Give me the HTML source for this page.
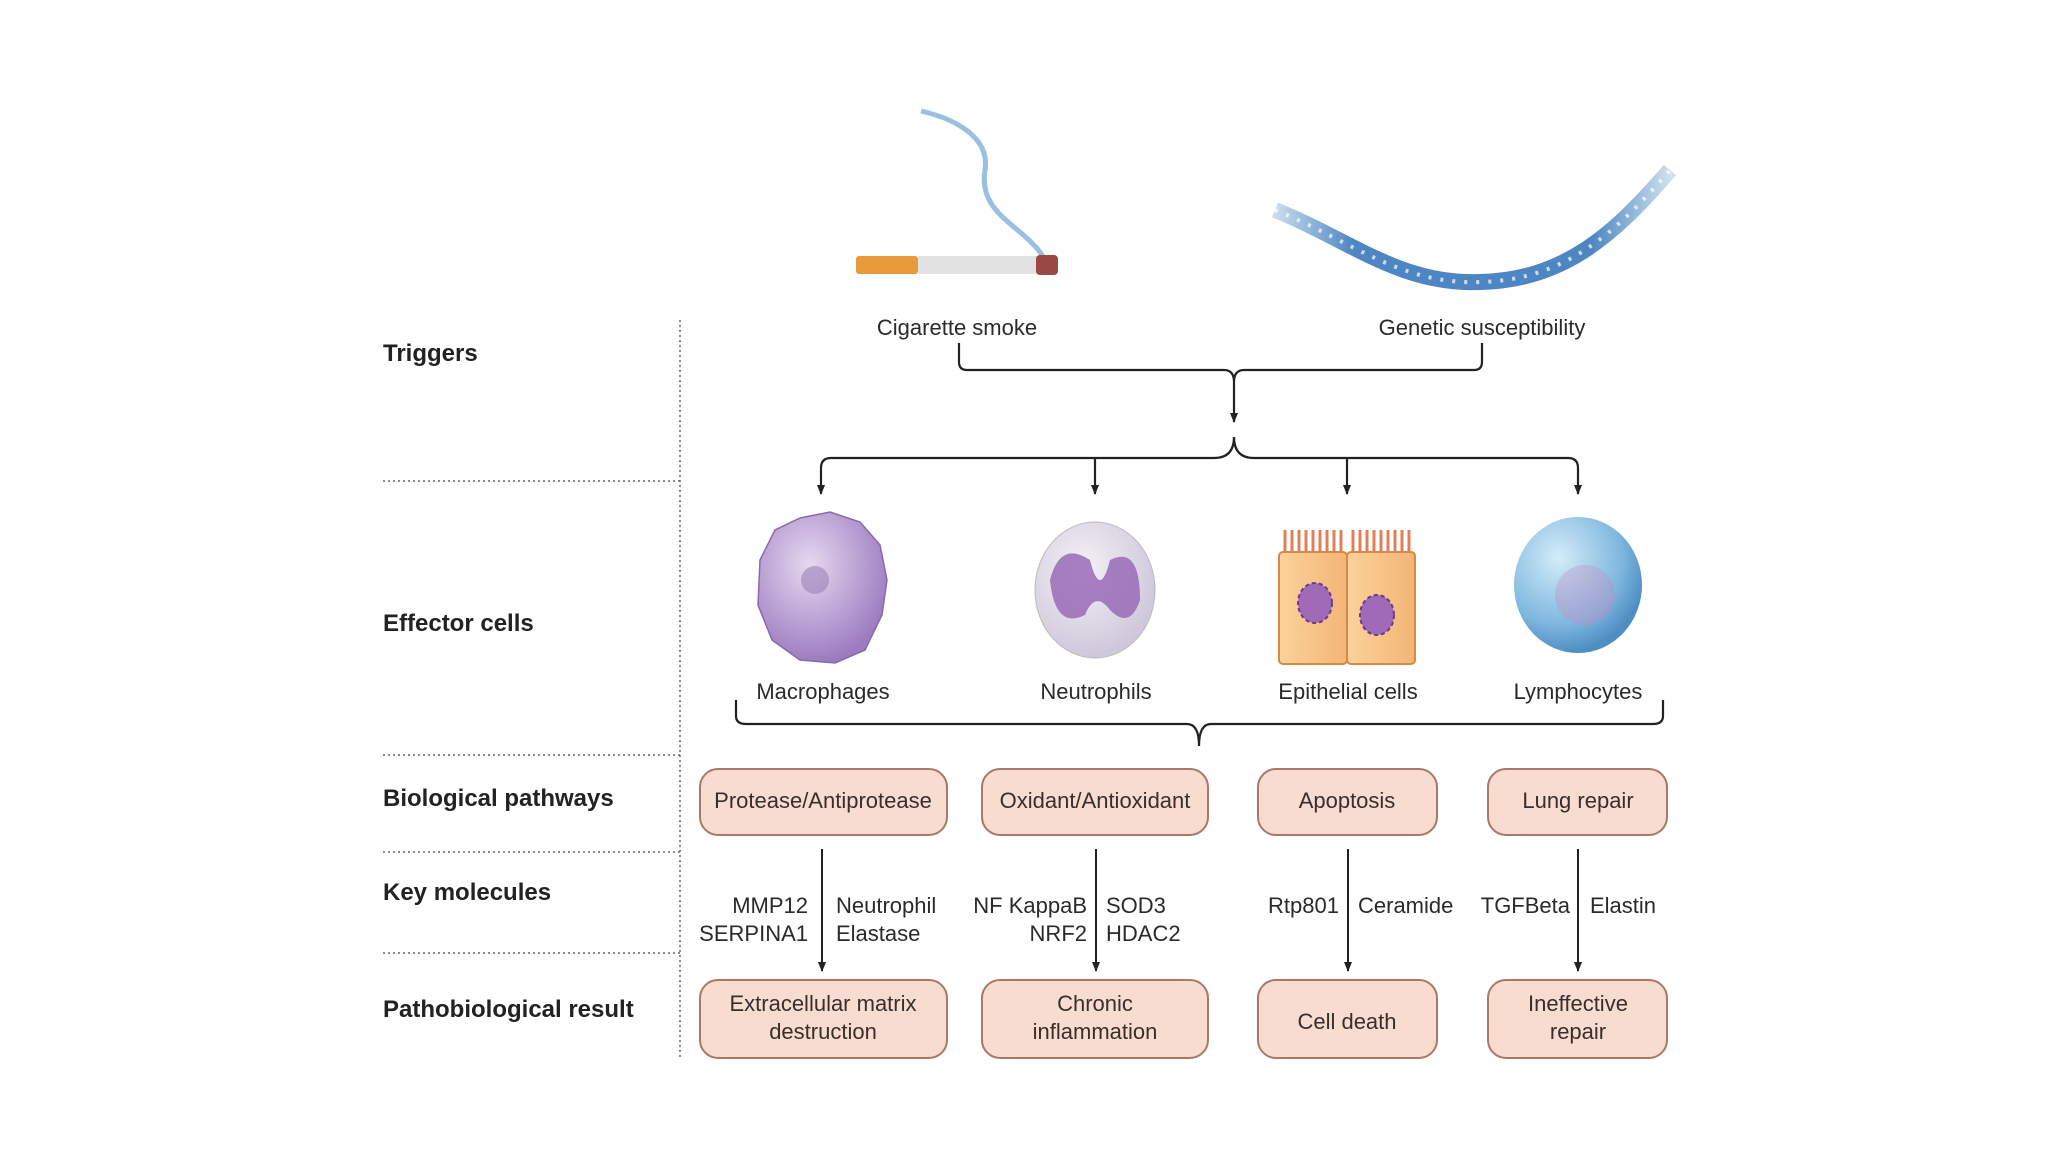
<!DOCTYPE html>
<html><head><meta charset="utf-8"><style>
html,body{margin:0;padding:0;background:#fff;}
svg{display:block;}
text{font-family:"Liberation Sans",Arial,sans-serif;fill:#2a2a2a;}
.h{font-weight:bold;font-size:24px;fill:#222;}
.l{font-size:22px;}
.b{font-size:22px;fill:#3a2e2b;}
</style></head><body>
<svg width="2048" height="1152" viewBox="0 0 2048 1152" xmlns="http://www.w3.org/2000/svg">
<defs>
<marker id="ar" markerWidth="12" markerHeight="12" refX="9" refY="5" orient="auto" markerUnits="userSpaceOnUse">
<path d="M0,1 L10,5 L0,9 Z" fill="#222"/></marker>
<radialGradient id="mac" cx="40%" cy="35%" r="65%"><stop offset="0" stop-color="#e6d8f0"/><stop offset="1" stop-color="#9c7cc0"/></radialGradient>
<radialGradient id="neu" cx="40%" cy="35%" r="65%"><stop offset="0" stop-color="#f4f2f6"/><stop offset="1" stop-color="#cfc7da"/></radialGradient>
<radialGradient id="lym" cx="35%" cy="30%" r="70%"><stop offset="0" stop-color="#d4ecf8"/><stop offset="0.7" stop-color="#7fb7df"/><stop offset="1" stop-color="#4e8fc3"/></radialGradient>
<linearGradient id="epi" x1="0" x2="1"><stop offset="0" stop-color="#fbd29a"/><stop offset="1" stop-color="#f3b576"/></linearGradient>
<linearGradient id="dna" x1="0" x2="1"><stop offset="0" stop-color="#c9dcec"/><stop offset="0.2" stop-color="#4d86c2"/><stop offset="0.8" stop-color="#4d86c2"/><stop offset="1" stop-color="#cfe0ee"/></linearGradient>
</defs>

<text class="h" x="383" y="361">Triggers</text>
<text class="h" x="383" y="631">Effector cells</text>
<text class="h" x="383" y="806">Biological pathways</text>
<text class="h" x="383" y="900">Key molecules</text>
<text class="h" x="383" y="1017">Pathobiological result</text>
<g stroke="#666" stroke-width="1.5" stroke-dasharray="2,3" fill="none">
<line x1="680" y1="320" x2="680" y2="1058"/>
<line x1="383" y1="481" x2="680" y2="481"/>
<line x1="383" y1="755" x2="680" y2="755"/>
<line x1="383" y1="852" x2="680" y2="852"/>
<line x1="383" y1="953" x2="680" y2="953"/>
</g>

<path d="M921,111 C960,120 990,140 985,170 C980,200 1000,215 1015,228 C1030,240 1040,250 1045,260" stroke="#7fb0dc" stroke-width="5" fill="none" opacity="0.8"/>
<rect x="856" y="256" width="62" height="18" rx="3" fill="#e69a3a"/>
<rect x="918" y="256" width="130" height="18" fill="#e2e2e2"/>
<rect x="1036" y="255" width="22" height="20" rx="4" fill="#9b4a43"/>

<path d="M1275,210 C1350,240 1400,285 1480,282 C1560,280 1610,240 1670,170" stroke="url(#dna)" stroke-width="16" fill="none"/>
<path d="M1275,210 C1350,240 1400,285 1480,282 C1560,280 1610,240 1670,170" stroke="#fff" stroke-width="4" stroke-dasharray="3,9" fill="none" opacity="0.7"/>

<text class="l" x="957" y="335" text-anchor="middle">Cigarette smoke</text>
<text class="l" x="1482" y="335" text-anchor="middle">Genetic susceptibility</text>

<g stroke="#222" stroke-width="2.2" fill="none">
<path d="M959,343 V362 Q959,370 967,370 H1224 Q1234,370 1234,382 Q1234,370 1244,370 H1474 Q1482,370 1482,362 V343"/>
<line x1="1234" y1="382" x2="1234" y2="422" marker-end="url(#ar)"/>
<path d="M1234,437 Q1234,458 1214,458 H831 Q821,458 821,468 V494" marker-end="url(#ar)"/>
<path d="M1234,437 Q1234,458 1254,458 H1568 Q1578,458 1578,468 V494" marker-end="url(#ar)"/>
<path d="M1095,458 V494" marker-end="url(#ar)"/>
<path d="M1347,458 V494" marker-end="url(#ar)"/>
</g>

<path d="M760,560 L775,530 L800,518 L830,512 L860,522 L880,545 L887,580 L882,615 L865,650 L835,663 L800,660 L772,640 L758,605 Z" fill="url(#mac)" stroke="#8a6aaa" stroke-width="1.5"/>
<circle cx="815" cy="580" r="14" fill="#9b82b8" opacity="0.6"/>
<ellipse cx="1095" cy="590" rx="60" ry="68" fill="url(#neu)" stroke="#bbb"/>
<path d="M1050,580 Q1060,540 1090,560 Q1100,600 1110,560 Q1140,545 1140,600 Q1130,630 1110,610 Q1095,590 1085,615 Q1055,630 1050,580Z" fill="#9a6ab8" opacity="0.85"/>
<rect x="1279" y="552" width="68" height="112" rx="4" fill="url(#epi)" stroke="#d68a4a" stroke-width="2"/>
<rect x="1347" y="552" width="68" height="112" rx="4" fill="url(#epi)" stroke="#d68a4a" stroke-width="2"/>
<g stroke="#e0805a" stroke-width="3">
<path d="M1285,552v-22M1292,552v-22M1299,552v-22M1306,552v-22M1313,552v-22M1320,552v-22M1327,552v-22M1334,552v-22M1341,552v-22"/>
<path d="M1353,552v-22M1360,552v-22M1367,552v-22M1374,552v-22M1381,552v-22M1388,552v-22M1395,552v-22M1402,552v-22M1409,552v-22"/>
</g>
<ellipse cx="1315" cy="603" rx="17" ry="20" fill="#a06ab8" stroke="#6a3a88" stroke-width="2" stroke-dasharray="4,3"/>
<ellipse cx="1377" cy="615" rx="17" ry="20" fill="#a06ab8" stroke="#6a3a88" stroke-width="2" stroke-dasharray="4,3"/>
<ellipse cx="1578" cy="585" rx="64" ry="68" fill="url(#lym)"/>
<circle cx="1585" cy="595" r="30" fill="#c98ac0" opacity="0.35"/>

<text class="l" x="823" y="699" text-anchor="middle">Macrophages</text>
<text class="l" x="1096" y="699" text-anchor="middle">Neutrophils</text>
<text class="l" x="1348" y="699" text-anchor="middle">Epithelial cells</text>
<text class="l" x="1578" y="699" text-anchor="middle">Lymphocytes</text>

<path d="M736,700 V716 Q736,724 746,724 H1187 Q1199,724 1199,746 Q1199,724 1211,724 H1653 Q1663,724 1663,716 V700" stroke="#222" stroke-width="2.2" fill="none"/>

<g fill="#f8dcd0" stroke="#a97868" stroke-width="2">
<rect x="700" y="769" width="247" height="66" rx="18"/>
<rect x="982" y="769" width="226" height="66" rx="18"/>
<rect x="1258" y="769" width="179" height="66" rx="18"/>
<rect x="1488" y="769" width="179" height="66" rx="18"/>
<rect x="700" y="980" width="247" height="78" rx="18"/>
<rect x="982" y="980" width="226" height="78" rx="18"/>
<rect x="1258" y="980" width="179" height="78" rx="18"/>
<rect x="1488" y="980" width="179" height="78" rx="18"/>
</g>
<text class="b" x="823" y="808" text-anchor="middle">Protease/Antiprotease</text>
<text class="b" x="1095" y="808" text-anchor="middle">Oxidant/Antioxidant</text>
<text class="b" x="1347" y="808" text-anchor="middle">Apoptosis</text>
<text class="b" x="1578" y="808" text-anchor="middle">Lung repair</text>
<text class="b" x="823" y="1011" text-anchor="middle">Extracellular matrix</text>
<text class="b" x="823" y="1039" text-anchor="middle">destruction</text>
<text class="b" x="1095" y="1011" text-anchor="middle">Chronic</text>
<text class="b" x="1095" y="1039" text-anchor="middle">inflammation</text>
<text class="b" x="1347" y="1029" text-anchor="middle">Cell death</text>
<text class="b" x="1578" y="1011" text-anchor="middle">Ineffective</text>
<text class="b" x="1578" y="1039" text-anchor="middle">repair</text>

<g stroke="#222" stroke-width="2" fill="none">
<line x1="822" y1="849" x2="822" y2="971" marker-end="url(#ar)"/>
<line x1="1096" y1="849" x2="1096" y2="971" marker-end="url(#ar)"/>
<line x1="1348" y1="849" x2="1348" y2="971" marker-end="url(#ar)"/>
<line x1="1578" y1="849" x2="1578" y2="971" marker-end="url(#ar)"/>
</g>
<text class="l" x="808" y="913" text-anchor="end">MMP12</text>
<text class="l" x="808" y="941" text-anchor="end">SERPINA1</text>
<text class="l" x="836" y="913">Neutrophil</text>
<text class="l" x="836" y="941">Elastase</text>
<text class="l" x="1087" y="913" text-anchor="end">NF KappaB</text>
<text class="l" x="1087" y="941" text-anchor="end">NRF2</text>
<text class="l" x="1106" y="913">SOD3</text>
<text class="l" x="1106" y="941">HDAC2</text>
<text class="l" x="1339" y="913" text-anchor="end">Rtp801</text>
<text class="l" x="1358" y="913">Ceramide</text>
<text class="l" x="1570" y="913" text-anchor="end">TGFBeta</text>
<text class="l" x="1590" y="913">Elastin</text>
</svg>
</body></html>
